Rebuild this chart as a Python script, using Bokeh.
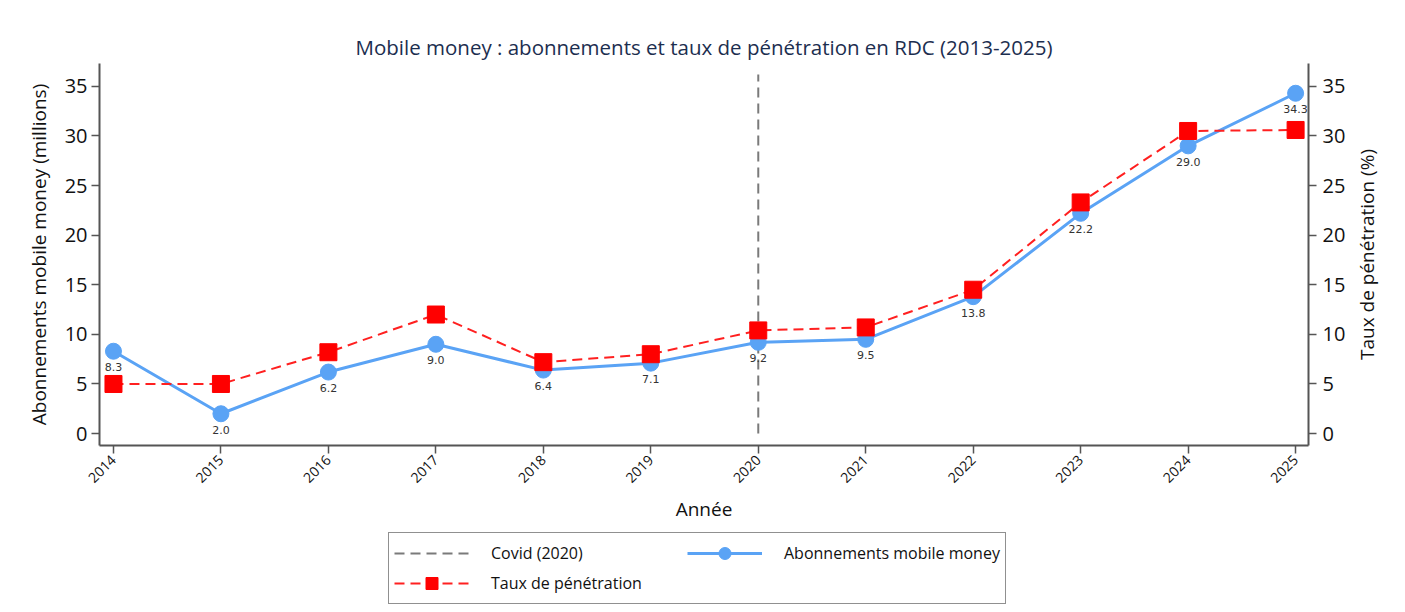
import math
from bokeh.plotting import figure
from bokeh.layouts import column, row
from bokeh.models import (ColumnDataSource, LinearAxis, Range1d, Legend, LegendItem,
                          FixedTicker, LabelSet, Label)
from bokeh.core.properties import value
from bokeh.embed import file_html
from bokeh.resources import INLINE

# ---- data ----
years = [2014, 2015, 2016, 2017, 2018, 2019, 2020, 2021, 2022, 2023, 2024, 2025]
subscriptions = [8.3, 2.0, 6.2, 9.0, 6.4, 7.1, 9.2, 9.5, 13.8, 22.2, 29.0, 34.3]
penetration = [5.0, 5.0, 8.2, 12.0, 7.2, 8.0, 10.4, 10.7, 14.5, 23.3, 30.5, 30.6]
sub_labels = [f"{v:.1f}" for v in subscriptions]
covid_year = 2020
covid_span = [0, 36.2]
y_ticks = [0, 5, 10, 15, 20, 25, 30, 35]
Y_MIN, Y_MAX = -1.2, 37.3

FONT = "Open Sans"
AXIS_COL = "#555555"
BLUE = "#5aa3f5"
RED = "#ff0000"
GREY = "#7a7a7a"

src = ColumnDataSource(dict(x=years, sub=subscriptions, pen=penetration, lab=sub_labels))

p = figure(width=1350, height=525, output_backend="svg", toolbar_location=None,
           x_range=Range1d(2013.87, 2025.12), y_range=Range1d(Y_MIN, Y_MAX),
           min_border_left=99, min_border_right=42, min_border_top=63, min_border_bottom=79)
p.extra_y_ranges = {"pct": Range1d(Y_MIN, Y_MAX)}

p.title.text = "Mobile money : abonnements et taux de pénétration en RDC (2013-2025)"
p.title.align = "center"
p.title.text_font = FONT
p.title.text_font_size = "20.5px"
p.title.text_font_style = "normal"
p.title.text_color = "#1c2e4f"
p.title.standoff = 5

p.outline_line_color = None
p.xgrid.visible = False
p.ygrid.visible = False
p.background_fill_color = "white"
p.border_fill_color = "white"

def style_axis(ax, label_size="20px"):
    ax.axis_line_color = AXIS_COL
    ax.axis_line_width = 2
    ax.major_tick_line_color = AXIS_COL
    ax.major_tick_line_width = 1.5
    ax.major_tick_out = 8
    ax.major_tick_in = 0
    ax.minor_tick_line_color = None
    ax.major_label_text_font = FONT
    ax.major_label_text_font_size = label_size
    ax.major_label_text_color = "#111111"
    ax.major_label_standoff = 4
    ax.axis_label_text_font = FONT
    ax.axis_label_text_font_size = "19px"
    ax.axis_label_text_font_style = "normal"
    ax.axis_label_text_color = "#111111"

xa = p.xaxis[0]
xa.ticker = FixedTicker(ticks=years)
xa.major_label_orientation = math.pi / 4
xa.axis_label = "Année"
style_axis(xa, "14px")
xa.axis_label_standoff = 6

ya = p.yaxis[0]
ya.ticker = FixedTicker(ticks=y_ticks)
ya.axis_label = "Abonnements mobile money (millions)"
style_axis(ya)
ya.axis_label_standoff = 10

ra = LinearAxis(y_range_name="pct")
ra.ticker = FixedTicker(ticks=y_ticks)
style_axis(ra)
ra.major_label_standoff = 6
p.add_layout(ra, "right")

p.line(x=[covid_year, covid_year], y=covid_span, line_color=GREY,
       line_width=2, line_dash="10 6")

p.line("x", "sub", source=src, line_color=BLUE, line_width=3)
p.scatter("x", "sub", source=src, marker="circle", size=16,
          fill_color=BLUE, line_color=BLUE)

p.line("x", "pen", source=src, y_range_name="pct", line_color="#ff2020",
       line_width=2, line_dash="10 6")
p.scatter("x", "pen", source=src, y_range_name="pct", marker="square", size=17,
          fill_color=RED, line_color=RED)

labels = LabelSet(x="x", y="sub", text="lab", source=src, y_offset=-12,
                  text_align="center", text_baseline="top", text_font=value("DejaVu Sans"),
                  text_font_size="11px", text_color="#333333")
p.add_layout(labels)

# ---- right-axis title strip (reads bottom-to-top, like the reference) ----
side = figure(width=39, height=525, output_backend="svg", toolbar_location=None,
              x_range=Range1d(0, 39), y_range=Range1d(Y_MIN, Y_MAX),
              min_border_left=0, min_border_right=0, min_border_top=63, min_border_bottom=79)
side.axis.visible = False
side.grid.visible = False
side.outline_line_color = None
side.background_fill_color = "white"
side.border_fill_color = "white"
side.add_layout(Label(x=16, y=(Y_MIN + Y_MAX) / 2, text="Taux de pénétration (%)",
                      angle=math.pi / 2, text_align="center", text_baseline="middle",
                      text_font=FONT, text_font_size="19px", text_color="#111111"))

# ---- legend in its own strip below the chart ----
# (legend renderers reuse the same data but lie outside this strip's 0..1 ranges)
lg = figure(width=1389, height=80, output_backend="svg", toolbar_location=None,
            x_range=Range1d(0, 1), y_range=Range1d(0, 1),
            min_border_left=99, min_border_right=81, min_border_top=0, min_border_bottom=0)
lg.axis.visible = False
lg.grid.visible = False
lg.outline_line_color = None
lg.background_fill_color = "white"
lg.border_fill_color = "white"

l_covid = lg.line("x", "sub", source=src, line_color=GREY, line_width=2, line_dash="10 6")
l_sub_line = lg.line("x", "sub", source=src, line_color=BLUE, line_width=3)
l_sub_pts = lg.scatter("x", "sub", source=src, marker="circle", size=16,
                       fill_color=BLUE, line_color=BLUE)
l_pen_line = lg.line("x", "pen", source=src, line_color="#ff2020", line_width=2, line_dash="10 6")
l_pen_pts = lg.scatter("x", "pen", source=src, marker="square", size=17,
                       fill_color=RED, line_color=RED)

legend = Legend(items=[
    LegendItem(label="Covid (2020)", renderers=[l_covid]),
    LegendItem(label="Taux de pénétration", renderers=[l_pen_line, l_pen_pts]),
    LegendItem(label="Abonnements mobile money", renderers=[l_sub_line, l_sub_pts]),
], ncols=2, location=(289, 1), orientation="vertical")
legend.border_line_color = "#222222"
legend.border_line_width = 1
legend.label_text_font = FONT
legend.label_text_font_size = "16px"
legend.label_text_color = "#111111"
legend.glyph_width = 75
legend.glyph_height = 30
legend.label_standoff = 22
legend.label_width = 196
legend.spacing = 0
legend.padding = 5
legend.margin = 0
lg.add_layout(legend, "center")

layout = column(row(p, side, spacing=0), lg, spacing=0)
open("out.html", "w").write(file_html(layout, INLINE))
